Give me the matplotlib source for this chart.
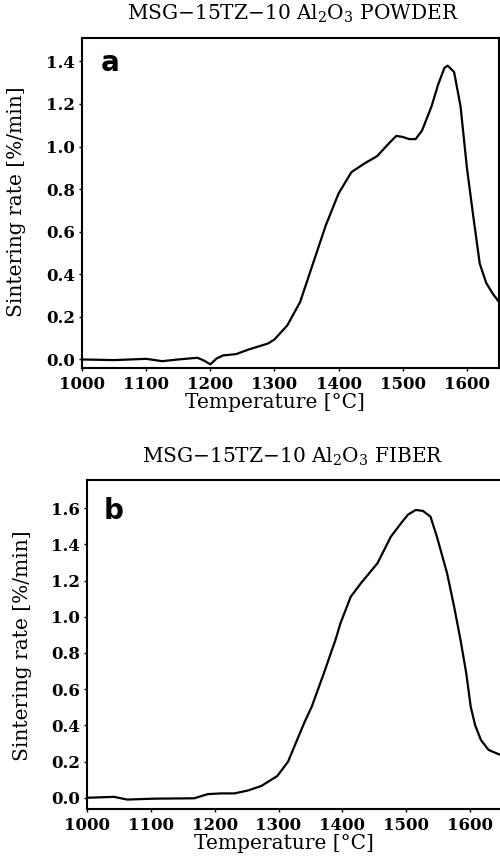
""" Sintering rate curves, powder vs fiber """

from matplotlib import pyplot as plt
import numpy as np

# panel a : powder
temp_a = [1000, 1050, 1100, 1125, 1150, 1180, 1190, 1200, 1210, 1220,
          1240, 1260, 1290, 1300, 1320, 1340, 1360, 1380, 1400, 1420,
          1440, 1460, 1480, 1490, 1500, 1510, 1520, 1530, 1545, 1555,
          1565, 1570, 1580, 1590, 1600, 1610, 1620, 1630, 1640, 1650]
rate_a = [0.0, -0.003, 0.003, -0.008, 0.0, 0.008, -0.005, -0.023, 0.005, 0.019,
          0.025, 0.047, 0.075, 0.094, 0.16, 0.27, 0.45, 0.63, 0.78, 0.88,
          0.92, 0.955, 1.02, 1.05, 1.045, 1.035, 1.035, 1.075, 1.19, 1.29,
          1.37, 1.38, 1.35, 1.19, 0.9, 0.67, 0.45, 0.36, 0.31, 0.27]

# panel b : fiber
temp_b = [1000, 1042, 1063, 1105, 1168, 1189, 1210, 1231, 1252, 1273,
          1298, 1315, 1329, 1341, 1352, 1371, 1382, 1389, 1397, 1413,
          1429, 1455, 1476, 1492, 1503, 1515, 1526, 1538, 1548, 1564,
          1575, 1585, 1594, 1601, 1608, 1617, 1629, 1648]
rate_b = [0.0, 0.005, -0.01, -0.005, -0.003, 0.02, 0.024, 0.024, 0.04, 0.065,
          0.12, 0.2, 0.319, 0.42, 0.503, 0.688, 0.8, 0.87, 0.964, 1.11,
          1.185, 1.296, 1.443, 1.517, 1.565, 1.59, 1.585, 1.553, 1.443, 1.24,
          1.056, 0.872, 0.688, 0.503, 0.4, 0.319, 0.264, 0.236]

x_ticks = [1000, 1100, 1200, 1300, 1400, 1500, 1600]
y_ticks_a = [0.0, 0.2, 0.4, 0.6, 0.8, 1.0, 1.2, 1.4]
y_ticks_b = [0.0, 0.2, 0.4, 0.6, 0.8, 1.0, 1.2, 1.4, 1.6]

plt.rcParams['font.family'] = 'DejaVu Serif'
plt.rcParams['mathtext.fontset'] = 'dejavuserif'

fig = plt.figure(figsize=(5, 8.63), dpi=100)
ax_a = fig.add_axes([0.164, 0.5736, 0.834, 0.3824])
ax_b = fig.add_axes([0.174, 0.0626, 0.830, 0.3813])


def style(ax, yt, ylim):
    """ common look of both panels """
    ax.set_xlim(1000, 1650)
    ax.set_ylim(*ylim)
    ax.set_xticks(x_ticks)
    ax.set_yticks(yt)
    ax.set_yticklabels([f"{v:.1f}" for v in yt])
    ax.tick_params(axis="x", direction="out", length=2, width=1,
                   labelsize=12, pad=4)
    ax.tick_params(axis="y", direction="out", length=2, width=1,
                   labelsize=12, pad=3)
    for lab in ax.get_xticklabels() + ax.get_yticklabels():
        lab.set_fontweight("bold")
    for s in ax.spines.values():
        s.set_linewidth(1.5)


ax_a.plot(temp_a, rate_a, color="black", lw=1.6)
style(ax_a, y_ticks_a, (-0.04, 1.51))
ax_a.text(0.045, 0.925, "a", transform=ax_a.transAxes, fontsize=20,
          fontweight="bold", family="DejaVu Sans", va="center")

ax_b.plot(temp_b, rate_b, color="black", lw=1.6)
style(ax_b, y_ticks_b, (-0.062, 1.756))
ax_b.text(0.04, 0.88, "b", transform=ax_b.transAxes, fontsize=20,
          fontweight="bold", family="DejaVu Sans", va="baseline")

fig.text(0.586, 0.984, r"MSG$-$15TZ$-$10 Al$_2$O$_3$ POWDER", ha="center",
         va="center", fontsize=14.5)
fig.text(0.586, 0.471, r"MSG$-$15TZ$-$10 Al$_2$O$_3$ FIBER", ha="center",
         va="center", fontsize=14.5)
fig.text(0.55, 0.534, "Temperature [°C]", ha="center", va="center",
         fontsize=14.5)
fig.text(0.567, 0.023, "Temperature [°C]", ha="center", va="center",
         fontsize=14.5)
fig.text(0.033, 0.766, "Sintering rate [%/min]", ha="center", va="center",
         rotation=90, fontsize=14.5)
fig.text(0.045, 0.252, "Sintering rate [%/min]", ha="center", va="center",
         rotation=90, fontsize=14.5)

fig.savefig("out.png", dpi=100)
